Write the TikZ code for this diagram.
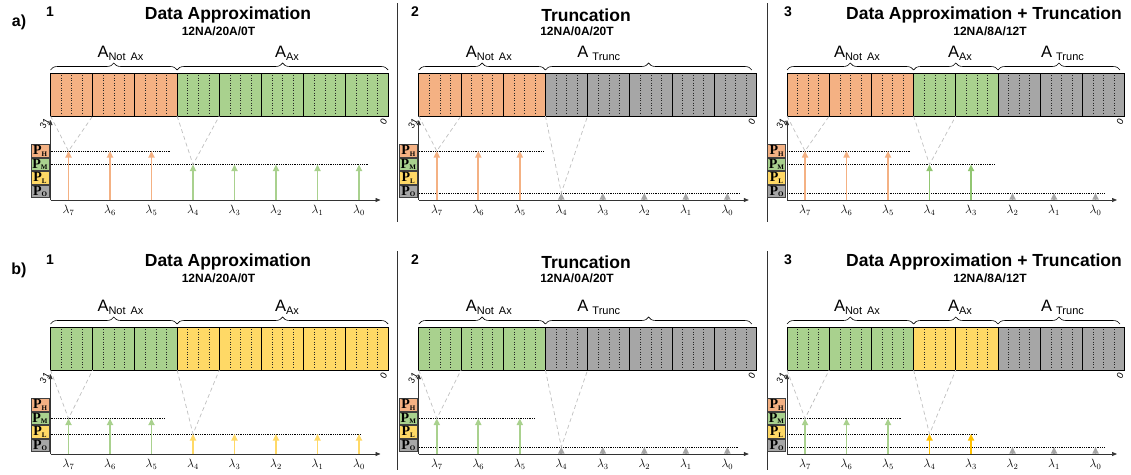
\documentclass[tikz,border=0pt]{standalone}
\usepackage{fontspec}
\setmainfont{Liberation Sans}
\newfontfamily\pserif{Liberation Serif}
\newfontfamily\carl{Carlito}
\usetikzlibrary{decorations.pathreplacing,arrows.meta}
\definecolor{cOr}{HTML}{F4B183}
\definecolor{cGr}{HTML}{A9D18E}
\definecolor{cYe}{HTML}{FFD966}
\definecolor{cGy}{HTML}{A6A6A6}
\definecolor{cGrD}{HTML}{92C672}
\definecolor{cYeD}{HTML}{FFC000}
\definecolor{cVl}{HTML}{BFBFBF}
\tikzset{
 blockline/.style={draw=black, line width=0.9pt},
 dotl/.style={black!85, line width=0.4pt, dash pattern=on 0.9pt off 1.6pt},
 levl/.style={black, line width=0.6pt, dash pattern=on 0.8pt off 1pt},
 vln/.style={cVl, line width=0.7pt, dash pattern=on 4pt off 3pt},
 arr/.style={line width=1.8pt, -{Triangle[width=6pt,length=6.5pt]}},
 axs/.style={black!80, line width=0.7pt, -{Triangle[width=4pt,length=5pt]}},
 pbox/.style={draw=black!75, line width=0.8pt, minimum width=18pt, minimum height=12.5pt, inner sep=0pt},
 lam/.style={font=\fontsize{12}{14}\selectfont, inner sep=0pt},
 alab/.style={anchor=base, inner sep=0pt},
 brc/.style={decorate, decoration={brace, amplitude=7pt}, line width=0.6pt},
 ttl/.style={font=\fontsize{17.5}{20}\selectfont\bfseries},
 sttl/.style={font=\fontsize{12}{14}\selectfont\bfseries},
 num/.style={font=\fontsize{14}{16}\selectfont\bfseries},
 rowl/.style={font=\fontsize{16}{18}\selectfont\bfseries},
 rotl/.style={font=\carl\fontsize{10}{12}\selectfont, rotate=60, inner sep=0pt},
 sepl/.style={black!80, line width=0.9pt},
}
\newcommand\Pt[1]{{\fontsize{14}{14}\selectfont P}\raisebox{-1.5pt}{\fontsize{7}{7}\selectfont #1}}
\newcommand\Al[1]{{\fontsize{16.5}{18}\selectfont A}\raisebox{-3pt}{\fontsize{11}{12}\selectfont #1}}
\newcommand\mkpanel[7]{%
\begin{scope}[shift={(#2,#3)}]
 \foreach \cl [count=\i from 0] in {#4} {
   \fill[\cl] (\i*42.2,73) rectangle ++(42.2,43);
   \foreach \j in {1,2,3} \draw[dotl] (\i*42.2+\j*10.55,75) -- ++(0,39);
 }
 \foreach \i in {0,...,7} \draw[blockline] (\i*42.2,73) rectangle ++(42.2,43);
 \coordinate (#1c0) at (0,116); \coordinate (#1c1) at (42.2,116);
 \coordinate (#1c3) at (126.6,116); \coordinate (#1c4) at (168.8,116);
 \foreach \a/\b/\lx/\lab in {#7} {
   \draw[brc] (\a,70) -- (\b,70);
   \node[alab] at (\lx,57) {\lab};
 }
 \coordinate (#1o) at (0,200); \coordinate (#1yt) at (0,120); \coordinate (#1xt) at (330,200);
 \draw[axs] (#1o) -- (#1yt);
 \draw[axs] (#1o) -- (#1xt);
 \foreach \lv/\cl/\s in {151/cOr/H,164.5/cGr/M,178/cYe/L,191.5/cGy/O}
   \node[pbox,fill=\cl,font=\pserif\bfseries] (#1p\s) at (-10.5,\lv) {\Pt{\s}};
 \foreach \lv/\e in {#6} \draw[levl] (0,\lv) -- (\e,\lv);
 \foreach \cl/\lv [count=\k from 0] in {#5} {
   \coordinate (#1b\k) at (18+41.5*\k,200);
   \coordinate (#1t\k) at (18+41.5*\k,\lv);
 }
 \draw[vln] (#1c0) -- (#1t0) -- (#1c1);
 \draw[vln] (#1c3) -- (#1t3) -- (#1c4);
 \foreach \cl/\lv [count=\k from 0] in {#5} \draw[arr,\cl] (#1b\k) -- (#1t\k);
 \foreach \k in {0,...,7} {
   \pgfmathtruncatemacro\lam{7-\k}
   \node[lam] (#1l\k) at (18+41.5*\k,210) {$\lambda_{\lam}$};
 }
 \node[rotl] (#1n31) at (-6,124) {31};
 \node[rotl] (#1n0) at (333,122) {0};
\end{scope}}
\begin{document}
\begin{tikzpicture}[x=1pt,y=-1pt]
\useasboundingbox (0,0) rectangle (1131,474);
% separators
\coordinate (s1a) at (397,3); \coordinate (s1b) at (397,222);
\coordinate (s2a) at (767,3); \coordinate (s2b) at (767,222);
\coordinate (s3a) at (397,251); \coordinate (s3b) at (397,470);
\coordinate (s4a) at (767,251); \coordinate (s4b) at (767,470);
\draw[sepl] (s1a) -- (s1b); \draw[sepl] (s2a) -- (s2b);
\draw[sepl] (s3a) -- (s3b); \draw[sepl] (s4a) -- (s4b);
% titles row a
\node[rowl] (ra) at (19,22) {a)};
\node[num] (na1) at (50,12) {1};
\node[num] (na2) at (415,12) {2};
\node[num] (na3) at (788,12) {3};
\node[ttl] (ta1) at (228,15) {Data Approximation};
\node[ttl] (ta2) at (586,15) {Truncation};
\node[ttl] (ta3) at (984,15) {Data Approximation + Truncation};
\node[sttl] (sa1) at (218.5,31) {12NA/20A/0T};
\node[sttl] (sa2) at (577,31) {12NA/0A/20T};
\node[sttl] (sa3) at (990,31) {12NA/8A/12T};
% titles row b
\node[rowl] (rb) at (19,270) {b)};
\node[num] (nb1) at (50,260) {1};
\node[num] (nb2) at (415,260) {2};
\node[num] (nb3) at (788,260) {3};
\node[ttl] (tb1) at (228,262) {Data Approximation};
\node[ttl] (tb2) at (586,262) {Truncation};
\node[ttl] (tb3) at (984,262) {Data Approximation + Truncation};
\node[sttl] (sb1) at (218.5,278) {12NA/20A/0T};
\node[sttl] (sb2) at (577,278) {12NA/0A/20T};
\node[sttl] (sb3) at (990,278) {12NA/8A/12T};
% panels row a
\mkpanel{A}{50.5}{0}{cOr,cOr,cOr,cGr,cGr,cGr,cGr,cGr}
 {cOr/151,cOr/151,cOr/151,cGr/164.5,cGr/164.5,cGr/164.5,cGr/164.5,cGr/164.5}
 {151/120,164.5/318}
 {0/126.6/70/{\Al{Not\hspace{5pt}Ax}},126.6/337.6/236.5/{\Al{Ax}}}
\mkpanel{B}{418.8}{0}{cOr,cOr,cOr,cGy,cGy,cGy,cGy,cGy}
 {cOr/151,cOr/151,cOr/151,cGy/193,cGy/193,cGy/193,cGy/193,cGy/193}
 {151/125,193/321}
 {0/126.6/70/{\Al{Not\hspace{5pt}Ax}},126.6/333/180/{\Al{\hspace{4pt}Trunc}}}
\mkpanel{C}{787}{0}{cOr,cOr,cOr,cGr,cGr,cGy,cGy,cGy}
 {cOr/151,cOr/151,cOr/151,cGrD/164.5,cGrD/164.5,cGy/193,cGy/193,cGy/193}
 {151/124,164.5/208,193/318}
 {0/126.6/70/{\Al{Not\hspace{5pt}Ax}},126.6/211/173/{\Al{Ax}},211/333/275.5/{\Al{\hspace{4pt}Trunc}}}
% panels row b
\mkpanel{D}{50.5}{254}{cGr,cGr,cGr,cYe,cYe,cYe,cYe,cYe}
 {cGr/164.5,cGr/164.5,cGr/164.5,cYe/180,cYe/180,cYe/180,cYe/180,cYe/180}
 {164.5/115,180/310}
 {0/126.6/70/{\Al{Not\hspace{5pt}Ax}},126.6/337.6/236.5/{\Al{Ax}}}
\mkpanel{E}{418.8}{254}{cGr,cGr,cGr,cGy,cGy,cGy,cGy,cGy}
 {cGr/164.5,cGr/164.5,cGr/164.5,cGy/193,cGy/193,cGy/193,cGy/193,cGy/193}
 {164.5/116,193/320}
 {0/126.6/70/{\Al{Not\hspace{5pt}Ax}},126.6/333/180/{\Al{\hspace{4pt}Trunc}}}
\mkpanel{F}{787}{254}{cGr,cGr,cGr,cYe,cYe,cGy,cGy,cGy}
 {cGr/164.5,cGr/164.5,cGr/164.5,cYeD/180,cYeD/180,cGy/193,cGy/193,cGy/193}
 {164.5/115,180/190,193/318}
 {0/126.6/70/{\Al{Not\hspace{5pt}Ax}},126.6/211/173/{\Al{Ax}},211/333/275.5/{\Al{\hspace{4pt}Trunc}}}
\end{tikzpicture}
\end{document}
